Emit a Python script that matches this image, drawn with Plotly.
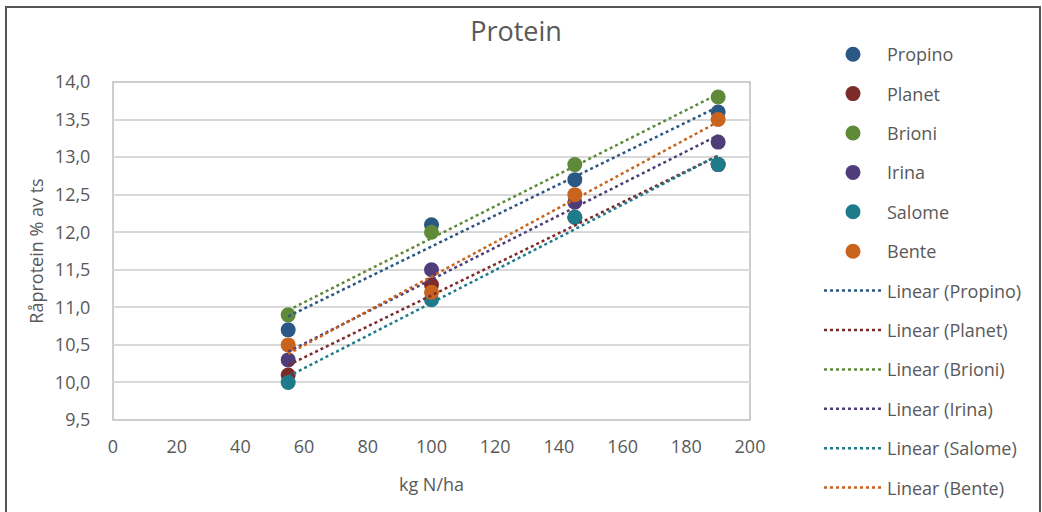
import numpy as np
import plotly.graph_objects as go

x_n = [55, 100, 145, 190]
series_names = ["Propino", "Planet", "Brioni", "Irina", "Salome", "Bente"]
propino = [10.7, 12.1, 12.7, 13.6]
planet = [10.1, 11.3, 12.2, 12.9]
brioni = [10.9, 12.0, 12.9, 13.8]
irina = [10.3, 11.5, 12.4, 13.2]
salome = [10.0, 11.1, 12.2, 12.9]
bente = [10.5, 11.2, 12.5, 13.5]
colors = ["#2a5783", "#7c2a2a", "#5e8a3a", "#4f3d79", "#1e7b8a", "#c8641e"]

values = [propino, planet, brioni, irina, salome, bente]
FONT = "Open Sans"
GRAY = "#595959"

fig = go.Figure()
for i, (name, vals, col) in enumerate(zip(series_names, values, colors)):
    fig.add_trace(go.Scatter(
        x=x_n, y=vals, mode="markers", name=name,
        marker=dict(color=col, size=15),
        legendgroup="m" + str(i), legendrank=i + 1,
    ))
for i, (name, vals, col) in enumerate(zip(series_names, values, colors)):
    slope, icpt = np.polyfit(x_n, vals, 1)
    xs = np.array([min(x_n), max(x_n)])
    fig.add_trace(go.Scatter(
        x=xs, y=slope * xs + icpt, mode="lines", name="Linear (" + name + ")",
        line=dict(color=col, width=2.5, dash="dot"),
        legendgroup="l" + str(i), legendrank=i + 7,
    ))

W, H = 1042, 512
L, R, T, B = 113, 750, 82, 420
PW, PH = R - L, B - T

fig.update_layout(
    width=W, height=H,
    margin=dict(l=L, r=W - R, t=T, b=H - B, autoexpand=False),
    paper_bgcolor="white", plot_bgcolor="white",
    separators=", ",
    font=dict(family=FONT, size=18, color=GRAY),
    title=dict(text="Protein", x=516 / W, xanchor="center", xref="container",
               y=1 - 32 / H, yanchor="middle", yref="container",
               font=dict(family=FONT, size=27, color=GRAY)),
    xaxis=dict(range=[0, 200], dtick=20, tick0=0, showgrid=False, zeroline=False,
               showline=False, ticks="outside", ticklen=10, tickcolor="rgba(0,0,0,0)",
               title=dict(text="kg N/ha", font=dict(size=18, color=GRAY), standoff=21),
               tickfont=dict(size=18, color=GRAY)),
    yaxis=dict(range=[9.5, 14.0], dtick=0.5, tick0=9.5, tickformat=".1f",
               showgrid=True, gridcolor="#d9d9d9", gridwidth=1.5, zeroline=False,
               showline=False, ticks="outside", ticklen=18, tickcolor="rgba(0,0,0,0)",
               title=dict(text="Råprotein % av ts", font=dict(size=18, color=GRAY), standoff=6),
               tickfont=dict(size=18, color=GRAY)),
    legend=dict(x=1 + (819 - R) / PW, xanchor="left", y=1 + (T - 36) / PH, yanchor="top",
                font=dict(size=18, color=GRAY), tracegroupgap=13, maxheight=2000,
                traceorder="grouped", itemwidth=58, bgcolor="rgba(0,0,0,0)"),
    shapes=[
        dict(type="rect", xref="paper", yref="paper", x0=0, x1=1, y0=0, y1=1,
             line=dict(color="#bfbfbf", width=1.5), layer="below"),
        dict(type="rect", xref="paper", yref="paper",
             x0=(6 - L) / PW, x1=(1040 - L) / PW, y0=(B - 530) / PH, y1=1 + (T - 7) / PH,
             line=dict(color="#555555", width=2)),
    ],
)

fig.write_html("out.html", config={"displayModeBar": False},
               post_script="document.body.style.margin='0px';")
